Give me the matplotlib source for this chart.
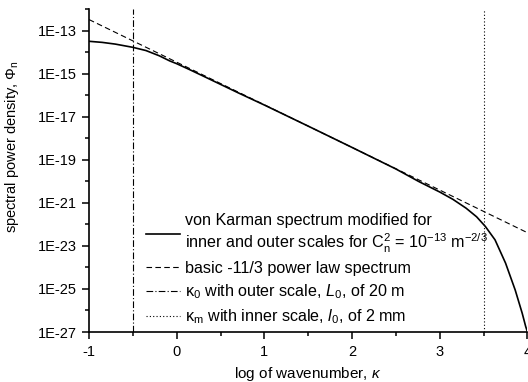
import numpy as np
import matplotlib
matplotlib.use('Agg')
import matplotlib.pyplot as plt
from matplotlib.ticker import FixedLocator, FuncFormatter

plt.rcParams['font.family'] = ['Liberation Sans', 'DejaVu Sans']
plt.rcParams['mathtext.fontset'] = 'custom'
plt.rcParams['mathtext.rm'] = 'Liberation Sans'
plt.rcParams['mathtext.it'] = 'Liberation Sans:italic'
plt.rcParams['mathtext.default'] = 'regular'
plt.rcParams['axes.unicode_minus'] = False

# log10 of wavenumber and log10 of spectral density
log_k = [-1.0, -0.85, -0.7, -0.5, -0.35, -0.2, -0.08, 0.0, 0.15, 0.3, 0.5, 0.7,
         1.0, 1.5, 2.0, 2.5, 2.76, 3.0, 3.15, 3.3, 3.42, 3.52, 3.63, 3.75,
         3.86, 3.94, 3.98, 4.0]
log_phi = [-13.50, -13.55, -13.63, -13.78, -13.93, -14.17, -14.41, -14.54, -14.82,
           -15.11, -15.50, -15.89, -16.46, -17.44, -18.43, -19.43, -20.01, -20.50,
           -20.84, -21.25, -21.65, -22.10, -22.72, -23.80, -25.05, -26.13,
           -26.75, -27.0]

# basic -11/3 power law (straight line on this chart)
log_k_pl = [-1, 0, 1, 2, 3, 4]
log_phi_pl = [-12.49, -14.47, -16.45, -18.43, -20.41, -22.39]

k_outer = -0.5   # kappa_0, L0 = 20 m
k_inner = 3.5    # kappa_m, l0 = 2 mm

fig = plt.figure(figsize=(5.28, 3.82), dpi=100)
ax = fig.add_axes([89/528, 1-332/382, 1-89/528-0.001, (332-9)/382])

ax.plot(log_k, 10**np.array(log_phi), color='black', lw=1.2,
        label='von Karman spectrum modified for\ninner and outer scales for '
              'C$_n^2$ = 10$^{-13}$ m$^{-2/3}$')
ax.plot(log_k_pl, 10**np.array(log_phi_pl), color='black', lw=0.8,
        dashes=(5, 3), label='basic -11/3 power law spectrum')
ax.axvline(k_outer, color='black', lw=0.8, dashes=(6, 2, 1, 2),
           label='κ$_0$ with outer scale, $\\it{L}$$_0$, of 20 m')
ax.axvline(k_inner, color='black', lw=0.8, dashes=(1, 2),
           label='κ$_m$ with inner scale, $\\it{l}$$_0$, of 2 mm')

ax.set_yscale('log')
ax.set_xlim(-1, 4)
ax.set_ylim(1e-27, 1e-12)

ax.xaxis.set_major_locator(FixedLocator([-1, 0, 1, 2, 3, 4]))
ax.xaxis.set_minor_locator(FixedLocator([-0.5, 0.5, 1.5, 2.5, 3.5]))
ax.yaxis.set_major_locator(FixedLocator([10.0**e for e in range(-27, -12, 2)]))
ax.yaxis.set_minor_locator(FixedLocator([10.0**e for e in range(-26, -11, 2)]))
ax.yaxis.set_major_formatter(FuncFormatter(lambda v, p: '1E%d' % round(np.log10(v))))
ax.yaxis.set_minor_formatter(FuncFormatter(lambda v, p: ''))

for s in ['top', 'right']:
    ax.spines[s].set_visible(False)
for s in ['left', 'bottom']:
    ax.spines[s].set_linewidth(1.2)
ax.tick_params(which='major', direction='out', length=5, width=1.1, labelsize=10.5)
ax.tick_params(which='minor', direction='out', length=3, width=1.1)
ax.tick_params(axis='x', pad=4)

ax.set_xlabel('log of wavenumber, $\\it{κ}$', fontsize=11)
ax.xaxis.set_label_coords(0.5, -0.102)
ax.set_ylabel('spectral power density, $\\it{Φ}$$_n$', fontsize=10.5)
ax.yaxis.set_label_coords(-0.155, 0.575)

ax.legend(loc='upper left', bbox_to_anchor=(146/528, 1-213/382),
          bbox_transform=fig.transFigure, frameon=False, fontsize=11.6,
          borderpad=0, borderaxespad=0, handlelength=2.1, handletextpad=0.3,
          labelspacing=0.4)

fig.savefig('out.png', dpi=100)
